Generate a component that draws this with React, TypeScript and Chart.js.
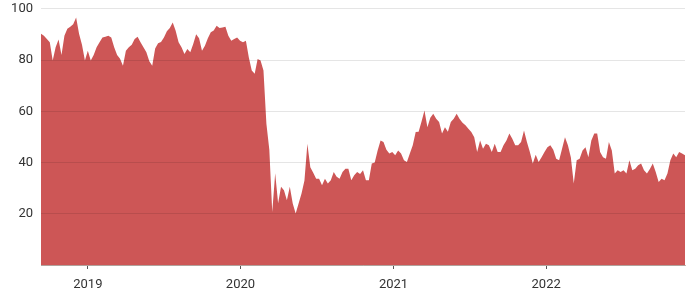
import { useEffect, useRef } from "react";
import { Chart, registerables } from "chart.js";

Chart.register(...registerables);

// Weekly observations starting on this date
const startDate = "2018-09-11";
const stepDays = 7;

const values: number[] = [
  90.3, 89.5, 88.2, 86.9, 79.8, 85, 88, 82, 89.5, 92.2,
  93, 94, 96.6, 90.3, 86, 79.8, 83.6, 79.8, 82, 85,
  86.9, 88.8, 89.1, 89.5, 88.8, 85, 82, 80.5, 77.8, 83.6,
  85, 86, 88.2, 89.1, 86.9, 85, 83, 79.5, 77.8, 84.5,
  86.6, 87, 88.8, 91.2, 92.5, 94.7, 91.4, 86.9, 85, 82.4,
  84.3, 83, 86.3, 90.1, 88.5, 83.6, 85.6, 88.5, 90.8, 91.5,
  93.4, 92.5, 92.7, 93, 89.5, 87.5, 88.2, 88.8, 87.5, 86.9,
  87.5, 81, 75.9, 74.6, 80.4, 79.8, 75.9, 55.1, 45, 20.7,
  35.8, 24.1, 30.5, 29.2, 25.3, 30.5, 24, 20.1, 24, 27.9,
  33, 47.3, 38.2, 36, 33.7, 33.7, 31.1, 33.7, 31.8, 33.1,
  36.3, 34.4, 33.7, 36.3, 37.6, 37.6, 33.1, 35, 36.3, 35.5,
  37, 33.1, 33.1, 39.6, 40, 44.7, 48.6, 48, 45, 43.5,
  44.1, 42.8, 44.7, 43.5, 40.9, 40.2, 43.5, 46.7, 51.9, 52,
  56, 60.3, 53.8, 57.5, 59, 57.1, 55.8, 51.3, 53.8, 52,
  55.8, 57.1, 59, 57, 55.5, 54.5, 53.2, 51.9, 49.9, 44.1,
  48.6, 45.4, 47.3, 46.7, 44.1, 47.3, 44.1, 44.1, 46.7, 48.6,
  51.3, 49.3, 46.7, 46.7, 48, 52.5, 48, 44.1, 39.6, 43,
  40.2, 42.1, 44.1, 46, 46.7, 45, 41.5, 40.9, 45.4, 49.9,
  46.7, 42.1, 31.8, 40.9, 41.5, 44.7, 46, 42.1, 48.6, 51.3,
  51.3, 44.1, 42.1, 41.5, 48, 44.7, 35.7, 37, 36.3, 37,
  35.7, 40.9, 37, 37.6, 38.9, 39.6, 37, 35.7, 37.5, 39.6,
  36.3, 32.4, 33.7, 33.1, 35.7, 40.9, 43.5, 42.1, 44.1, 43.5,
  42.8,
];

const yearTicks = [2019, 2020, 2021, 2022];
const yTicks = [0, 20, 40, 60, 80, 100];

export default function App() {
  const ref = useRef<HTMLCanvasElement | null>(null);

  useEffect(() => {
    document.body.style.margin = "0";
    const day = 86400000;
    const t0 = Date.parse(startDate + "T00:00:00Z");
    const points = values.map((v, i) => ({ x: t0 + i * stepDays * day, y: v }));
    const font = { family: "Roboto, 'Noto Sans', sans-serif", size: 13 };

    const chart = new Chart(ref.current as HTMLCanvasElement, {
      type: "line",
      data: {
        datasets: [
          {
            data: points,
            fill: "origin",
            backgroundColor: "rgb(205,86,86)",
            borderColor: "rgb(205,86,86)",
            borderWidth: 0,
            pointRadius: 0,
            tension: 0,
          },
        ],
      },
      options: {
        animation: false,
        responsive: false,
        maintainAspectRatio: false,
        layout: { padding: { right: 15, top: 0 } },
        plugins: { legend: { display: false }, tooltip: { enabled: false } },
        scales: {
          x: {
            type: "linear",
            min: points[0].x,
            max: points[points.length - 1].x,
            afterBuildTicks: (s: any) => {
              s.ticks = yearTicks.map((y) => ({ value: Date.UTC(y, 0, 1) }));
            },
            afterFit: (s: any) => {
              s.height = 35;
            },
            ticks: {
              autoSkip: false,
              maxRotation: 0,
              color: "#333",
              padding: 8,
              font,
              callback: (v: any) => String(new Date(Number(v)).getUTCFullYear()),
            },
            grid: { drawOnChartArea: false, drawTicks: true, tickLength: 4, color: "#555" },
            border: { display: true, color: "rgba(90,40,20,0.35)", z: 1 },
          },
          y: {
            min: 0,
            max: 100,
            afterBuildTicks: (s: any) => {
              s.ticks = yTicks.map((v) => ({ value: v }));
            },
            afterFit: (s: any) => {
              s.width = 41;
            },
            ticks: {
              color: "#333",
              padding: 8,
              font,
              callback: (v: any) => (Number(v) === 0 ? "" : String(v)),
            },
            grid: { color: "rgba(0,0,0,0.1)", drawTicks: false, z: 1 },
            border: { display: false },
          },
        },
      },
    });
    return () => chart.destroy();
  }, []);

  return (
    <canvas
      ref={ref}
      width={700}
      height={307}
      style={{ display: "block", marginTop: "-7px" }}
    />
  );
}
